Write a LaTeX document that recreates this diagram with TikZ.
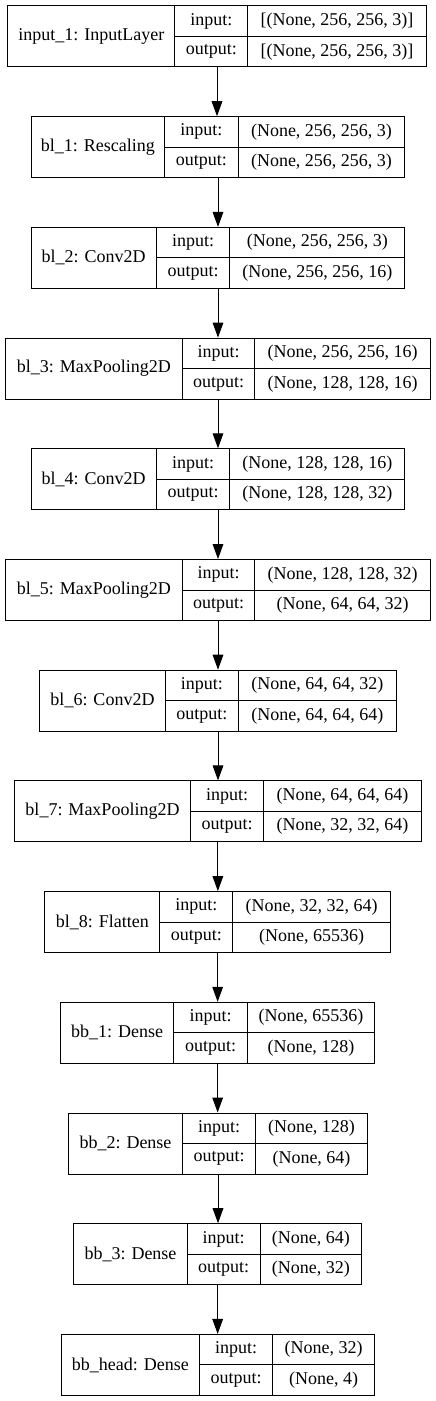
\documentclass[tikz,border=0pt]{standalone}
\usepackage{fontspec}
\setmainfont{Liberation Serif}
\usetikzlibrary{arrows.meta}
\begin{document}
\begin{tikzpicture}[x=0.75pt,y=-0.75pt,line width=0.75pt,>={Triangle[length=11.25pt,width=8pt]},
	font=\fontsize{13.5}{16}\selectfont,
	layerbox/.style={draw,inner sep=0pt,anchor=north west,minimum height=45.75pt},
	halfbox/.style={draw,inner sep=0pt,anchor=north west,minimum height=22.875pt}]
	\useasboundingbox (0,0) rectangle (435,1401);
	% one record per layer: left edge, two dividers, right edge
	\foreach \i/\lx/\ax/\bx/\rx/\nm/\vin/\vout in {
		0/7.3/174.3/247.3/425.7/{input\_1: InputLayer}/{[(None, 256, 256, 3)]}/{[(None, 256, 256, 3)]},
		1/30.7/164/237.7/404.3/{bl\_1: Rescaling}/{(None, 256, 256, 3)}/{(None, 256, 256, 3)},
		2/30.7/155.7/229.3/404.3/{bl\_2: Conv2D}/{(None, 256, 256, 3)}/{(None, 256, 256, 16)},
		3/5/181.7/254.3/430/{bl\_3: MaxPooling2D}/{(None, 256, 256, 16)}/{(None, 128, 128, 16)},
		4/30.7/155.7/229.3/404.3/{bl\_4: Conv2D}/{(None, 128, 128, 16)}/{(None, 128, 128, 32)},
		5/5/181.7/254.3/430/{bl\_5: MaxPooling2D}/{(None, 128, 128, 32)}/{(None, 64, 64, 32)},
		6/39.3/164.7/238/395.7/{bl\_6: Conv2D}/{(None, 64, 64, 32)}/{(None, 64, 64, 64)},
		7/14/190/263.3/420.7/{bl\_7: MaxPooling2D}/{(None, 64, 64, 64)}/{(None, 32, 32, 64)},
		8/44.3/159.3/232.3/390/{bl\_8: Flatten}/{(None, 32, 32, 64)}/{(None, 65536)},
		9/60/173.3/246.7/374.3/{bb\_1: Dense}/{(None, 65536)}/{(None, 128)},
		10/68.3/181.7/255.3/366.7/{bb\_2: Dense}/{(None, 128)}/{(None, 64)},
		11/73.3/186.7/259.7/361/{bb\_3: Dense}/{(None, 64)}/{(None, 32)},
		12/60.7/199/272.3/374/{bb\_head: Dense}/{(None, 32)}/{(None, 4)}}{
		\pgfmathsetmacro\ty{5.5+110.7*\i}
		\pgfmathsetmacro\my{\ty+30.5}
		\node[layerbox,minimum width={(\rx-\lx)*0.75pt}] (L\i) at (\lx,\ty) {};
		\node[layerbox,minimum width={(\ax-\lx)*0.75pt}] (n\i) at (\lx,\ty) {\nm};
		\node[halfbox,minimum width={(\bx-\ax)*0.75pt}] (in\i) at (\ax,\ty) {input:};
		\node[halfbox,minimum width={(\bx-\ax)*0.75pt}] (out\i) at (\ax,\my) {output:};
		\node[halfbox,minimum width={(\rx-\bx)*0.75pt}] (vin\i) at (\bx,\ty) {\vin};
		\node[halfbox,minimum width={(\rx-\bx)*0.75pt}] (vout\i) at (\bx,\my) {\vout};
	}
	\foreach \i [count=\j] in {0,...,11}
		\draw[->] (L\i.south) -- (L\i.south |- L\j.north);
\end{tikzpicture}
\end{document}
